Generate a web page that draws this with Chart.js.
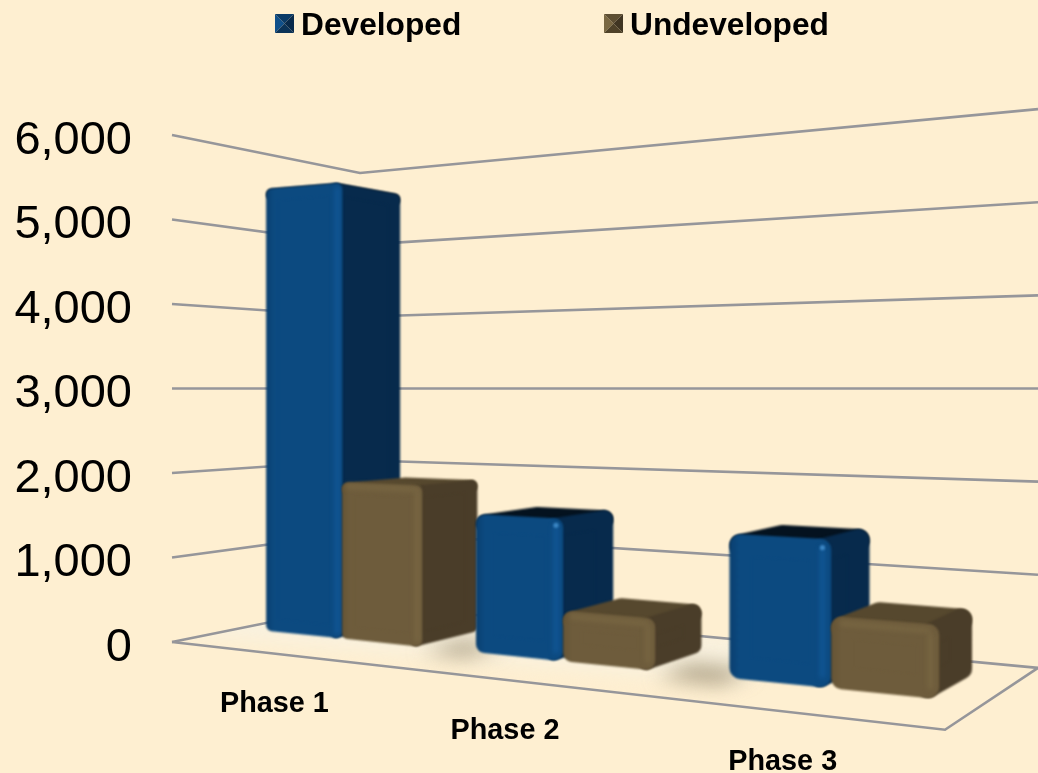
<!DOCTYPE html>
<html>
<head>
<meta charset="utf-8">
<title>Developed and undeveloped by phase</title>
<script src="https://cdn.jsdelivr.net/npm/chart.js@4/dist/chart.umd.min.js"></script>
<style>
  html, body { margin: 0; padding: 0; background: #FEEFD1; }
  canvas { display: block; }
</style>
</head>
<body>
<canvas id="chart" width="1038" height="773"></canvas>
<script>
// Datos
const categories = ['Phase 1', 'Phase 2', 'Phase 3'];
const developed = [5470, 1580, 1520];
const undeveloped = [1870, 570, 760];
const yTicks = [0, 1000, 2000, 3000, 4000, 5000, 6000];

// Camara: la linea de horizonte cae en este valor del eje
const horizonValue = 3000;
// Esquinas del suelo: fraccion del ancho y factor de escala respecto al eje
const floorFront = { fx: 0.8926, s: 1.346 };
const floorBackLeft = { fx: 0.2171, s: 0.85 };
const floorBackRight = { fx: 1, s: 1.102 };
// Profundidad de las barras sobre el suelo (0 delante, 1 detras)
const barFront = 0.333;
const barBack = 0.667;
// Ajustes finos por grupo
const barShiftU = [-0.003, -0.01, -0.002];
const labelDx = [-3, -8, -6];
const cornerRadius = [6, 9, 11];

const faces = {
    Developed: { front: '#0C4A80', frontEdge: '#0A3F6F', seam: '#115796', topSeam: null, spot: '#3B86C4', side: '#072A4C', top: '#04121F', legend: ['#0F4F8A', '#0A3A66', '#08294A', '#0B3358'] },
    Undeveloped: { front: '#6E5C3C', frontEdge: '#665536', seam: '#786642', topSeam: '#786642', spot: null, side: '#4A3D29', top: '#56482E', legend: ['#7A6843', '#5E4F33', '#403522', '#4F4229'] }
};

// Proyeccion del suelo en perspectiva: (u, w) a pixeles
function makeCamera(chart) {
    const area = chart.chartArea;
    const yScale = chart.scales.y;
    const y0 = yScale.getPixelForValue(0);
    const horizon = yScale.getPixelForValue(horizonValue);
    const W = area.right - area.left;
    const corner = (c) => [area.left + c.fx * W, horizon + (y0 - horizon) * c.s];
    const [x0, yy0] = [area.left, y0];
    const [x1, y1] = corner(floorFront);
    const [x2, y2] = corner(floorBackRight);
    const [x3, y3] = corner(floorBackLeft);
    const dx1 = x1 - x2, dx2 = x3 - x2, sx = x0 - x1 + x2 - x3;
    const dy1 = y1 - y2, dy2 = y3 - y2, sy = yy0 - y1 + y2 - y3;
    const den = dx1 * dy2 - dx2 * dy1;
    const g = (sx * dy2 - dx2 * sy) / den;
    const h = (dx1 * sy - sx * dy1) / den;
    const a = x1 - x0 + g * x1, b = x3 - x0 + h * x3;
    const d = y1 - yy0 + g * y1, e = y3 - yy0 + h * y3;

    function floor(u, w) {
        const q = g * u + h * w + 1;
        return { x: (a * u + b * w + x0) / q, y: (d * u + e * w + yy0) / q };
    }
    // Punto a la altura del eje "py" sobre el punto (u, w) del suelo
    function at(u, w, py) {
        const p = floor(u, w);
        const s = (p.y - horizon) / (y0 - horizon);
        return [p.x, horizon + (py - horizon) * s];
    }
    return { floor, at, toU: (px) => (px - area.left) / W };
}

function poly(ctx, pts) {
    ctx.beginPath();
    pts.forEach((p, i) => i ? ctx.lineTo(p[0], p[1]) : ctx.moveTo(p[0], p[1]));
    ctx.closePath();
}

function drawFace(ctx, pts, fill, r) {
    poly(ctx, pts);
    ctx.fillStyle = fill;
    ctx.strokeStyle = fill;
    ctx.lineWidth = r * 2;
    ctx.lineJoin = 'round';
    ctx.fill();
    ctx.stroke();
}

function drawBar(ctx, cam, el, look, r, shift) {
    const wf = barFront + 0.004, wb = barBack - 0.004;
    // Pixeles por unidad de u en cada lado, para que el redondeo no encoja la barra
    const perU = (u) => (cam.floor(u + 0.01, wf).x - cam.floor(u, wf).x) / 0.01;
    const u0 = cam.toU(el.x - el.width / 2) + shift;
    const u1 = cam.toU(el.x + el.width / 2) + shift;
    const ul = u0 + r / perU(u0);
    const ur = u1 - r / perU(u1);
    const top = el.y + r, bot = el.base - r;

    const fl = cam.at(ul, wf, top), fr = cam.at(ur, wf, top);
    const bl = cam.at(ul, wb, top), br = cam.at(ur, wb, top);
    const flb = cam.at(ul, wf, bot), frb = cam.at(ur, wf, bot), brb = cam.at(ur, wb, bot);

    ctx.save();
    ctx.filter = 'blur(0.8px)';
    drawFace(ctx, [fl, fr, br, bl], look.top, r);
    drawFace(ctx, [fr, br, brb, frb], look.side, r);

    const grad = ctx.createLinearGradient(fl[0] - r, 0, fr[0] + r, 0);
    grad.addColorStop(0, look.frontEdge);
    grad.addColorStop(0.1, look.front);
    grad.addColorStop(1, look.front);
    drawFace(ctx, [fl, fr, frb, flb], grad, r);

    // Brillo suave de las aristas
    ctx.filter = 'blur(2.5px)';
    ctx.lineCap = 'round';
    ctx.lineWidth = 5;
    if (look.topSeam) {
        ctx.strokeStyle = look.topSeam;
        ctx.beginPath();
        ctx.moveTo(fl[0], fl[1] - r * 0.4);
        ctx.lineTo(fr[0], fr[1] - r * 0.4);
        ctx.stroke();
    }
    ctx.strokeStyle = look.seam;
    ctx.beginPath();
    ctx.moveTo(fr[0] + r * 0.2, fr[1]);
    ctx.lineTo(frb[0] + r * 0.2, frb[1]);
    ctx.stroke();
    if (look.spot && r > cornerRadius[0]) {
        ctx.filter = 'blur(1px)';
        ctx.fillStyle = look.spot;
        ctx.beginPath();
        ctx.arc(fr[0] + r * 0.2, fr[1] - r * 0.2, 2.6, 0, Math.PI * 2);
        ctx.fill();
    }
    ctx.restore();
}

const scene3d = {
    id: 'scene3d',
    beforeDatasetsDraw(chart) {
        const ctx = chart.ctx;
        const cam = makeCamera(chart);
        const yScale = chart.scales.y;

        const pt = (u, w) => { const p = cam.floor(u, w); return [p.x, p.y]; };
        const fa = pt(0, 0), fb = pt(1, 0), fc = pt(1, 1), fd = pt(0, 1);

        ctx.save();
        // Suelo: casi del color del fondo, mas claro hacia el fondo izquierdo
        ctx.save();
        poly(ctx, [fa, fb, fc, fd]);
        ctx.clip();
        ctx.filter = 'blur(9px)';
        ctx.fillStyle = '#F9F1DE';
        poly(ctx, [pt(-0.1, 0.12), pt(0.72, 0.3), pt(0.72, 1.1), pt(-0.1, 1.1)]);
        ctx.fill();

        // Sombras entre los grupos
        ctx.filter = 'blur(10px)';
        ctx.fillStyle = 'rgba(140,125,95,0.75)';
        [[0.305, 0.37], [0.63, 0.71]].forEach((gap) => {
            poly(ctx, [pt(gap[0], 0.26), pt(gap[1], 0.26), pt(gap[1], 0.5), pt(gap[0], 0.5)]);
            ctx.fill();
        });
        ctx.restore();

        // Rejilla de las paredes
        ctx.strokeStyle = '#96969A';
        ctx.lineWidth = 2.6;
        yTicks.forEach((v) => {
            const py = yScale.getPixelForValue(v);
            const a = cam.at(0, 0, py), b = cam.at(0, 1, py), c = cam.at(1, 1, py);
            ctx.beginPath();
            ctx.moveTo(a[0], a[1]);
            ctx.lineTo(b[0], b[1]);
            ctx.lineTo(c[0], c[1]);
            ctx.stroke();
        });
        // Borde delantero del suelo
        ctx.beginPath();
        ctx.moveTo(fa[0], fa[1]);
        ctx.lineTo(fb[0], fb[1]);
        ctx.lineTo(fc[0], fc[1]);
        ctx.stroke();

        // Barras, de izquierda a derecha
        categories.forEach((name, i) => {
            chart.data.datasets.forEach((ds, k) => {
                const el = chart.getDatasetMeta(k).data[i];
                drawBar(ctx, cam, el, faces[ds.label], cornerRadius[i], barShiftU[i]);
            });
        });

        // Etiquetas de categoria bajo el borde del suelo
        ctx.fillStyle = '#000';
        ctx.font = 'bold 28.8px "Liberation Sans", Arial, sans-serif';
        ctx.textAlign = 'center';
        ctx.textBaseline = 'middle';
        categories.forEach((name, i) => {
            const u = cam.toU(chart.scales.x.getPixelForValue(i));
            const p = cam.floor(u, 0);
            ctx.fillText(name, p.x + labelDx[i], p.y + 50.5);
        });

        // Leyenda
        const legendX = [275, 604];
        ctx.font = 'bold 31.7px "Liberation Sans", Arial, sans-serif';
        ctx.textAlign = 'left';
        ctx.textBaseline = 'alphabetic';
        chart.data.datasets.forEach((ds, k) => {
            const x = legendX[k], y = 14, size = 19;
            const cx = x + size / 2, cy = y + size / 2;
            const tris = [
                [[x, y], [cx, cy], [x, y + size]],
                [[x, y], [x + size, y], [cx, cy]],
                [[x + size, y], [x + size, y + size], [cx, cy]],
                [[x, y + size], [x + size, y + size], [cx, cy]]
            ];
            tris.forEach((t, j) => {
                poly(ctx, t);
                ctx.fillStyle = faces[ds.label].legend[j];
                ctx.fill();
            });
            ctx.fillStyle = '#000';
            ctx.fillText(ds.label, x + size + 7, 35);
        });
        ctx.restore();
        return false; // las barras ya estan dibujadas en 3D
    }
};

new Chart(document.getElementById('chart').getContext('2d'), {
    type: 'bar',
    plugins: [scene3d],
    data: {
        labels: categories,
        datasets: [
            { label: 'Developed', data: developed, backgroundColor: faces.Developed.front },
            { label: 'Undeveloped', data: undeveloped, backgroundColor: faces.Undeveloped.front }
        ]
    },
    options: {
        responsive: false,
        animation: false,
        layout: { padding: { top: 135, bottom: 131, left: 0, right: 0 } },
        datasets: { bar: { categoryPercentage: 0.74, barPercentage: 1 } },
        plugins: { legend: { display: false }, tooltip: { enabled: false } },
        scales: {
            x: { display: false },
            y: {
                min: yTicks[0],
                max: yTicks[yTicks.length - 1],
                afterFit(scale) { scale.width = 172; },
                grid: { display: false, drawTicks: false },
                border: { display: false },
                ticks: {
                    stepSize: yTicks[1] - yTicks[0],
                    padding: 40,
                    labelOffset: 6,
                    color: '#000',
                    font: { family: '"Liberation Sans", Arial, sans-serif', size: 47 },
                    callback: function(value) {
                        return value.toLocaleString('en-US');
                    }
                }
            }
        }
    }
});
</script>
</body>
</html>
